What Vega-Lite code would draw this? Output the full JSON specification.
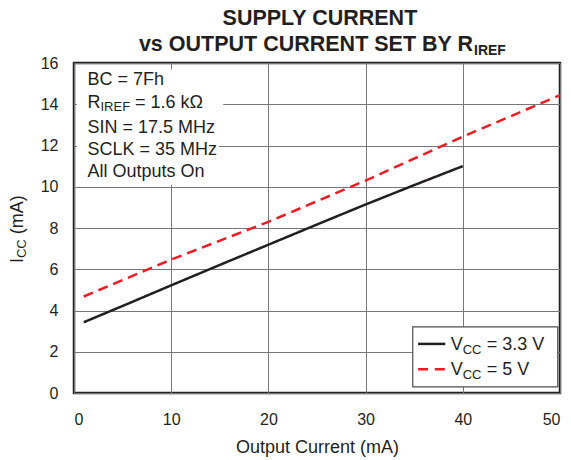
{
  "$schema": "https://vega.github.io/schema/vega-lite/v6.json",
  "width": 486,
  "height": 330,
  "autosize": {"type": "none"},
  "padding": {"left": 74, "top": 63, "right": 11, "bottom": 67},
  "background": "white",
  "config": {
    "font": "Liberation Sans",
    "view": {"stroke": "#231f20", "strokeWidth": 2.5},
    "axis": {
      "labelFont": "Liberation Sans",
      "labelColor": "#231f20",
      "labelFontSize": 16,
      "titleFont": "Liberation Sans",
      "titleFontSize": 18,
      "titleFontWeight": "normal",
      "titleColor": "#231f20",
      "ticks": false,
      "domain": false,
      "grid": true,
      "gridColor": "#777777",
      "gridWidth": 1,
      "gridOpacity": 1
    }
  },
  "layer": [
    {
      "data": {"values": [{}]},
      "mark": {"type": "rect", "fill": "white"},
      "encoding": {"x": {"datum": 0.3}, "x2": {"datum": 15.35}, "y": {"datum": 13.0}, "y2": {"datum": 15.7}}
    },
    {
      "data": {"values": [{}]},
      "mark": {"type": "rect", "fill": "white"},
      "encoding": {"x": {"datum": 0.3}, "x2": {"datum": 14.9}, "y": {"datum": 10.1}, "y2": {"datum": 13.0}}
    },
    {
      "data": {
        "values": [
          {"series": "3.3 V", "x": 1, "y": 3.43},
          {"series": "3.3 V", "x": 5, "y": 4.22},
          {"series": "3.3 V", "x": 10, "y": 5.22},
          {"series": "3.3 V", "x": 15, "y": 6.21},
          {"series": "3.3 V", "x": 20, "y": 7.19},
          {"series": "3.3 V", "x": 25, "y": 8.17},
          {"series": "3.3 V", "x": 30, "y": 9.14},
          {"series": "3.3 V", "x": 35, "y": 10.08},
          {"series": "3.3 V", "x": 40, "y": 11.0},
          {"series": "5 V", "x": 1, "y": 4.68},
          {"series": "5 V", "x": 10, "y": 6.47},
          {"series": "5 V", "x": 20, "y": 8.3},
          {"series": "5 V", "x": 30, "y": 10.3},
          {"series": "5 V", "x": 40, "y": 12.43},
          {"series": "5 V", "x": 50, "y": 14.44}
        ]
      },
      "mark": {"type": "line", "strokeWidth": 2.5},
      "encoding": {
        "x": {
          "field": "x",
          "type": "quantitative",
          "scale": {"domain": [0, 50], "nice": false, "zero": false},
          "axis": {"values": [0, 10, 20, 30, 40, 50], "title": "Output Current (mA)", "labelPadding": 18, "titlePadding": 11}
        },
        "y": {
          "field": "y",
          "type": "quantitative",
          "scale": {"domain": [0, 16], "nice": false, "zero": false},
          "axis": {"values": [0, 2, 4, 6, 8, 10, 12, 14, 16], "title": null, "labelPadding": 16}
        },
        "color": {
          "field": "series",
          "type": "nominal",
          "scale": {"domain": ["3.3 V", "5 V"], "range": ["#231f20", "#ed1c24"]},
          "legend": null
        },
        "strokeDash": {
          "field": "series",
          "type": "nominal",
          "scale": {"domain": ["3.3 V", "5 V"], "range": [[1, 0], [10, 6]]},
          "legend": null
        }
      }
    },
    {
      "data": {"values": [{}]},
      "mark": {"type": "rect", "fill": "white", "stroke": "#4d4d4d", "strokeWidth": 1.2},
      "encoding": {"x": {"datum": 34.85}, "x2": {"datum": 49.77}, "y": {"datum": 0.3}, "y2": {"datum": 3.21}}
    },
    {
      "data": {"values": [{}]},
      "mark": {"type": "rule", "color": "#231f20", "strokeWidth": 2.5},
      "encoding": {"x": {"datum": 35.4}, "x2": {"datum": 38.2}, "y": {"datum": 2.38}}
    },
    {
      "data": {"values": [{}]},
      "mark": {"type": "rule", "color": "#ed1c24", "strokeWidth": 2.5, "strokeDash": [10, 6.7]},
      "encoding": {"x": {"datum": 35.4}, "x2": {"datum": 38.2}, "y": {"datum": 1.15}}
    },
    {
      "data": {"values": [{"t": "V"}]},
      "mark": {"type": "text", "align": "left", "baseline": "alphabetic", "fontSize": 18, "color": "#231f20"},
      "encoding": {"x": {"datum": 38.75}, "y": {"datum": 2.08}, "text": {"field": "t"}}
    },
    {
      "data": {"values": [{"t": "CC"}]},
      "mark": {"type": "text", "align": "left", "baseline": "alphabetic", "fontSize": 13, "dx": 12, "dy": 4, "color": "#231f20"},
      "encoding": {"x": {"datum": 38.75}, "y": {"datum": 2.08}, "text": {"field": "t"}}
    },
    {
      "data": {"values": [{"t": "= 3.3 V"}]},
      "mark": {"type": "text", "align": "left", "baseline": "alphabetic", "fontSize": 18, "dx": 36, "color": "#231f20"},
      "encoding": {"x": {"datum": 38.75}, "y": {"datum": 2.08}, "text": {"field": "t"}}
    },
    {
      "data": {"values": [{"t": "V"}]},
      "mark": {"type": "text", "align": "left", "baseline": "alphabetic", "fontSize": 18, "color": "#231f20"},
      "encoding": {"x": {"datum": 38.75}, "y": {"datum": 0.87}, "text": {"field": "t"}}
    },
    {
      "data": {"values": [{"t": "CC"}]},
      "mark": {"type": "text", "align": "left", "baseline": "alphabetic", "fontSize": 13, "dx": 12, "dy": 4, "color": "#231f20"},
      "encoding": {"x": {"datum": 38.75}, "y": {"datum": 0.87}, "text": {"field": "t"}}
    },
    {
      "data": {"values": [{"t": "= 5 V"}]},
      "mark": {"type": "text", "align": "left", "baseline": "alphabetic", "fontSize": 18, "dx": 36, "color": "#231f20"},
      "encoding": {"x": {"datum": 38.75}, "y": {"datum": 0.87}, "text": {"field": "t"}}
    },
    {
      "data": {"values": [{"t": "BC = 7Fh"}]},
      "mark": {"type": "text", "align": "left", "baseline": "alphabetic", "fontSize": 18, "color": "#231f20"},
      "encoding": {"x": {"datum": 1.39}, "y": {"datum": 14.91}, "text": {"field": "t"}}
    },
    {
      "data": {"values": [{"t": "R"}]},
      "mark": {"type": "text", "align": "left", "baseline": "alphabetic", "fontSize": 18, "color": "#231f20"},
      "encoding": {"x": {"datum": 1.39}, "y": {"datum": 13.82}, "text": {"field": "t"}}
    },
    {
      "data": {"values": [{"t": "IREF"}]},
      "mark": {"type": "text", "align": "left", "baseline": "alphabetic", "fontSize": 13, "dx": 13, "dy": 3.5, "color": "#231f20"},
      "encoding": {"x": {"datum": 1.39}, "y": {"datum": 13.82}, "text": {"field": "t"}}
    },
    {
      "data": {"values": [{"t": "= 1.6 kΩ"}]},
      "mark": {"type": "text", "align": "left", "baseline": "alphabetic", "fontSize": 18, "dx": 47.5, "color": "#231f20"},
      "encoding": {"x": {"datum": 1.39}, "y": {"datum": 13.82}, "text": {"field": "t"}}
    },
    {
      "data": {"values": [{"t": "SIN = 17.5 MHz"}]},
      "mark": {"type": "text", "align": "left", "baseline": "alphabetic", "fontSize": 18, "color": "#231f20"},
      "encoding": {"x": {"datum": 1.39}, "y": {"datum": 12.63}, "text": {"field": "t"}}
    },
    {
      "data": {"values": [{"t": "SCLK = 35 MHz"}]},
      "mark": {"type": "text", "align": "left", "baseline": "alphabetic", "fontSize": 18, "color": "#231f20"},
      "encoding": {"x": {"datum": 1.39}, "y": {"datum": 11.54}, "text": {"field": "t"}}
    },
    {
      "data": {"values": [{"t": "All Outputs On"}]},
      "mark": {"type": "text", "align": "left", "baseline": "alphabetic", "fontSize": 18, "color": "#231f20"},
      "encoding": {"x": {"datum": 1.39}, "y": {"datum": 10.45}, "text": {"field": "t"}}
    },
    {
      "data": {"values": [{"t": "SUPPLY CURRENT"}]},
      "mark": {"type": "text", "align": "center", "baseline": "alphabetic", "fontSize": 21.5, "fontWeight": "bold", "color": "#231f20"},
      "encoding": {"x": {"datum": 25.3}, "y": {"datum": 17.84}, "text": {"field": "t"}}
    },
    {
      "data": {"values": [{"t": "vs OUTPUT CURRENT SET BY R"}]},
      "mark": {"type": "text", "align": "right", "baseline": "alphabetic", "fontSize": 21.5, "fontWeight": "bold", "color": "#231f20"},
      "encoding": {"x": {"datum": 41.05}, "y": {"datum": 16.58}, "text": {"field": "t"}}
    },
    {
      "data": {"values": [{"t": "IREF"}]},
      "mark": {"type": "text", "align": "left", "baseline": "alphabetic", "fontSize": 14, "fontWeight": "bold", "dx": 1, "dy": 4, "color": "#231f20"},
      "encoding": {"x": {"datum": 41.05}, "y": {"datum": 16.58}, "text": {"field": "t"}}
    },
    {
      "data": {"values": [{"t": "I"}]},
      "mark": {"type": "text", "align": "left", "baseline": "alphabetic", "angle": 270, "fontSize": 18, "color": "#231f20"},
      "encoding": {"x": {"datum": -5.25}, "y": {"datum": 6.3}, "text": {"field": "t"}}
    },
    {
      "data": {"values": [{"t": "CC"}]},
      "mark": {"type": "text", "align": "left", "baseline": "alphabetic", "angle": 270, "fontSize": 13, "dx": 5, "dy": 3.5, "color": "#231f20"},
      "encoding": {"x": {"datum": -5.25}, "y": {"datum": 6.3}, "text": {"field": "t"}}
    },
    {
      "data": {"values": [{"t": "(mA)"}]},
      "mark": {"type": "text", "align": "left", "baseline": "alphabetic", "angle": 270, "fontSize": 18, "dx": 28.8, "color": "#231f20"},
      "encoding": {"x": {"datum": -5.25}, "y": {"datum": 6.3}, "text": {"field": "t"}}
    }
  ]
}
